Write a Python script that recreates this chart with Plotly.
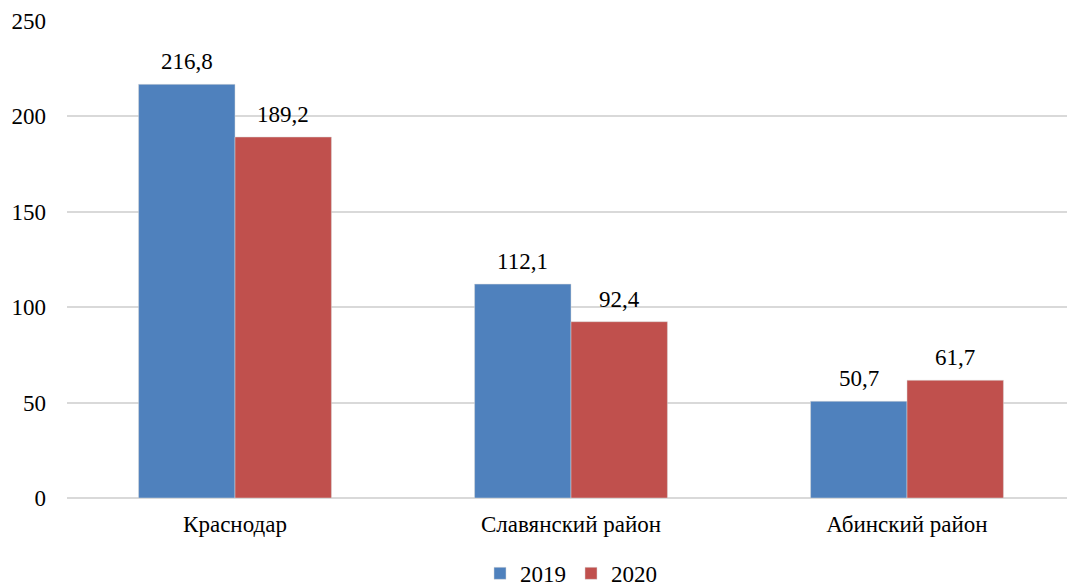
import plotly.graph_objects as go

categories = ["Краснодар", "Славянский район", "Абинский район"]
series_names = ["2019", "2020"]
values_2019 = [216.8, 112.1, 50.7]
values_2020 = [189.2, 92.4, 61.7]
y_ticks = [0, 50, 100, 150, 200, 250]

colors = ["#4F81BD", "#C0504D"]
FONT = "'Liberation Serif', 'Times New Roman', serif"
FS = 23

fig = go.Figure()
for name, vals, col in zip(series_names, [values_2019, values_2020], colors):
    fig.add_trace(go.Bar(
        x=categories, y=vals, name=name,
        marker=dict(color=col, line=dict(color="#D9D9D9", width=0.5)),
        hoverinfo="x+y+name",
    ))

# value labels above bars
for vals, shift in zip([values_2019, values_2020], [-48.2, 48.2]):
    for c, v in zip(categories, vals):
        fig.add_annotation(
            x=c, y=v, xref="x", yref="y", text=f"{v:.1f}".replace(".", ","),
            showarrow=False, xshift=shift, yanchor="bottom", yshift=8,
            font=dict(family=FONT, size=FS, color="#000000"),
        )

fig.update_layout(
    width=1067, height=580,
    margin=dict(l=59, r=0, t=13, b=90, autoexpand=False),
    barmode="group", bargap=0.426, bargroupgap=0,
    separators=", ",
    paper_bgcolor="white", plot_bgcolor="white",
    font=dict(family=FONT, size=FS, color="#000000"),
    showlegend=True,
    legend=dict(orientation="h", x=0.5, xanchor="center", y=-0.158, yanchor="middle",
                font=dict(family=FONT, size=FS), itemwidth=30, traceorder="normal"),
    xaxis=dict(showgrid=False, showline=False, ticks="", ticklabelstandoff=10,
               tickfont=dict(family=FONT, size=FS)),
    yaxis=dict(range=[0, 250], tickvals=y_ticks, showgrid=True, gridcolor="#D9D9D9",
               gridwidth=1.5, zeroline=True, zerolinecolor="#D9D9D9", zerolinewidth=1.5,
               showline=False, ticks="", ticklabelstandoff=20,
               tickfont=dict(family=FONT, size=FS)),
)

fig.write_html("out.html")
